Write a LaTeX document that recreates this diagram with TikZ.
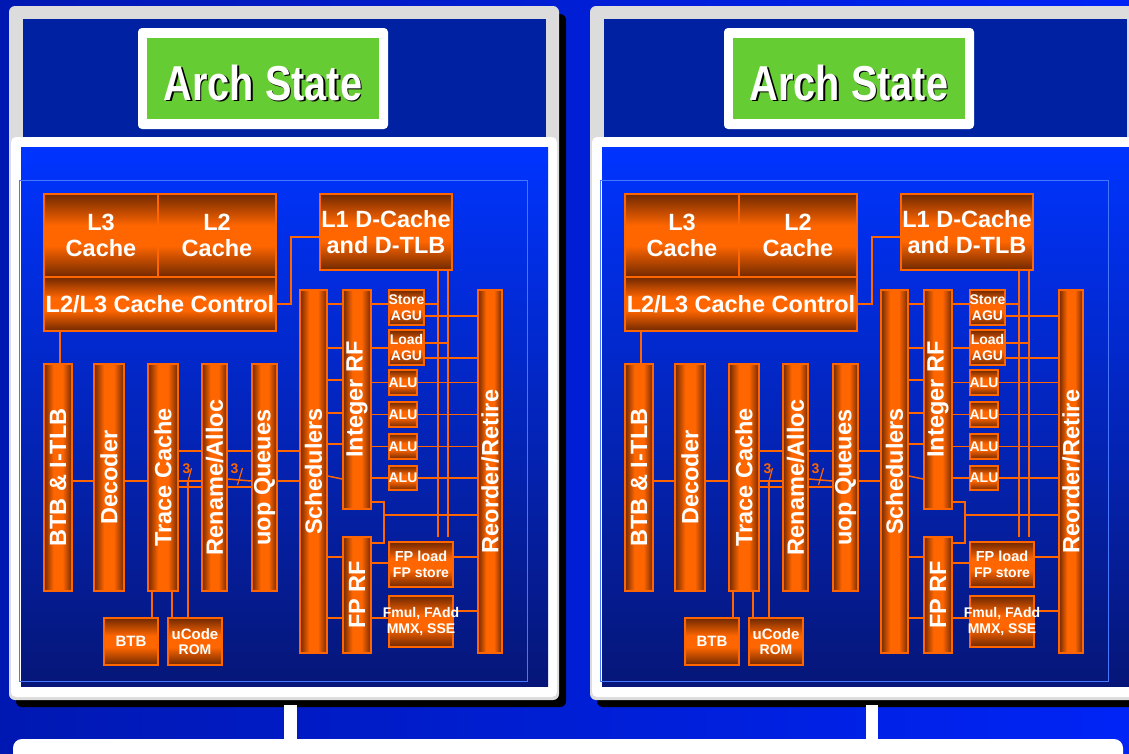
\documentclass[tikz,border=0pt]{standalone}
\usepackage{fontspec}
\setmainfont{Liberation Sans}
\usetikzlibrary{calc}

\definecolor{bgLeft}{RGB}{0,24,178}
\definecolor{bgRight}{RGB}{0,36,246}
\definecolor{frameGray}{RGB}{220,220,220}
\definecolor{topBlue}{RGB}{0,34,162}
\definecolor{coreTop}{RGB}{0,52,255}
\definecolor{coreBot}{RGB}{6,22,120}
\definecolor{rimBlue}{RGB}{70,120,255}
\definecolor{archGreen}{RGB}{102,204,51}
\definecolor{orng}{RGB}{255,102,0}
\definecolor{rust}{RGB}{112,40,0}
\definecolor{rustMid}{RGB}{190,74,0}

% cylinder-like shading across the narrow bars, and top/bottom shading for the blocks
\pgfdeclarehorizontalshading{barshade}{100bp}{color(0bp)=(rust); color(25bp)=(rust); color(34bp)=(rustMid); color(42bp)=(orng); color(58bp)=(orng); color(66bp)=(rustMid); color(75bp)=(rust); color(100bp)=(rust)}
\pgfdeclareverticalshading{boxshade}{100bp}{color(0bp)=(rust); color(25bp)=(rust); color(44bp)=(orng); color(56bp)=(orng); color(75bp)=(rust); color(100bp)=(rust)}

\pgfdeclarelayer{back}
\pgfdeclarelayer{wires}
\pgfsetlayers{back,wires,main}

\tikzset{
  unit/.style={draw=orng, line width=1.5, inner sep=0pt, text=white, align=center,
    font=\bfseries\fontsize{23.5}{26}\selectfont},
  hblock/.style={unit, shading=boxshade},
  vbar/.style={unit, shading=barshade},
  small/.style={hblock, font=\bfseries\fontsize{14}{15.5}\selectfont},
  link/.style={draw=orng, line width=1.5},
  tick/.style={draw=orng, line width=1.2},
  buswidth/.style={text=orng, inner sep=0pt, font=\bfseries\fontsize{14}{14}\selectfont},
  archfont/.style={inner sep=0pt, font=\bfseries\fontsize{49}{49}\selectfont},
}

% \blk{name}{x1}{y1}{x2}{y2}{style}{text}
\newcommand\blk[7]{\node[#6, minimum width={(#4)-(#2)}, minimum height={(#5)-(#3)}] (#1) at ({((#2)+(#4))/2},{((#3)+(#5))/2}) {#7};}
% a label line that may run past the edges of its box
\newcommand\ov[1]{\makebox[0pt]{#1}}

% one processor core with its architectural state
\newcommand\cpupanel[2]{%
\begin{scope}[xshift=#1]
  \begin{pgfonlayer}{back}
    \fill[black, rounded corners=6] (16,14) rectangle (566,707);
    \fill[frameGray, rounded corners=6] (9,6) rectangle (559,700);
    \fill[topBlue] (23,19) rectangle (546,138);
    \fill[white, rounded corners=5] (11,137) rectangle (557,697);
    \shade[top color=coreTop, bottom color=coreBot] (21,147) rectangle (548,686);
    \draw[rimBlue, line width=1] (19,180) rectangle (527,681);
    \fill[white, rounded corners=4] (138+#2,28) rectangle (388+#2,129);
  \end{pgfonlayer}
  % architectural state
  \node[fill=archGreen, inner sep=0pt, minimum width=232, minimum height=81] (arch) at (263+#2,78.5) {};
  \node[archfont, text=black] (archshadow) at (264.5+#2,84) {\scalebox{0.81}[1]{Arch State}};
  \node[archfont, text=white] (archtxt) at (263+#2,82.5) {\scalebox{0.81}[1]{Arch State}};
  % caches
  \blk{l3}{44}{194}{158}{277}{hblock}{L3\\Cache}
  \blk{l2}{158}{194}{276}{277}{hblock}{L2\\Cache}
  \blk{ctrl}{44}{277}{276}{331}{hblock}{\ov{L2/L3 Cache Control}}
  \blk{l1}{320}{194}{452}{270}{hblock}{\ov{L1 D-Cache}\\\ov{and D-TLB}}
  % front end
  \blk{btb}{44}{364}{72}{591}{vbar}{\rotatebox{90}{BTB \& I-TLB}}
  \blk{dec}{94}{364}{124}{591}{vbar}{\rotatebox{90}{Decoder}}
  \blk{tc}{148}{364}{178}{591}{vbar}{\rotatebox{90}{Trace Cache}}
  \blk{ren}{202}{364}{227}{591}{vbar}{\rotatebox{90}{Rename/Alloc}}
  \blk{uopq}{252}{364}{277}{591}{vbar}{\rotatebox{90}{uop Queues}}
  \blk{btb2}{104}{618}{158}{665}{small}{\fontsize{15}{17}\selectfont BTB}
  \blk{ucode}{168}{618}{222}{665}{small}{\fontsize{15}{17}\selectfont uCode\\ROM}
  % out-of-order back end
  \blk{sched}{300}{290}{327}{653}{vbar}{\rotatebox{90}{Schedulers}}
  \blk{irf}{343}{290}{371}{509}{vbar}{\rotatebox{90}{Integer RF}}
  \blk{fprf}{343}{537}{371}{653}{vbar}{\rotatebox{90}{FP RF}}
  \blk{store}{389}{290}{424}{325}{small}{\ov{Store}\\\ov{AGU}}
  \blk{load}{389}{330}{424}{365}{small}{\ov{Load}\\\ov{AGU}}
  \blk{alu1}{389}{370}{417}{395}{small}{\ov{ALU}}
  \blk{alu2}{389}{402}{417}{427}{small}{\ov{ALU}}
  \blk{alu3}{389}{434}{417}{459}{small}{\ov{ALU}}
  \blk{alu4}{389}{466}{417}{490}{small}{\ov{ALU}}
  \blk{fpls}{389}{542}{453}{587}{small}{\fontsize{14.5}{15.5}\selectfont\ov{FP load}\\\ov{FP store}}
  \blk{fmul}{389}{596}{453}{647}{small}{\ov{Fmul, FAdd}\\\ov{MMX, SSE}}
  \blk{rob}{478}{290}{502}{653}{vbar}{\rotatebox{90}{Reorder/Retire}}
  % junction points
  \coordinate (ucodetap) at (188,481);
  \coordinate (dtap1) at (438,537);
  \coordinate (dtap2) at (448,537);
  \coordinate (jn) at (384,515);
  \node[buswidth] (w1) at (186.5,469) {3};
  \node[buswidth] (w2) at (234.5,469) {3};
  \begin{pgfonlayer}{wires}
    \draw[link] (ctrl.south -| 60,0) -- (btb.north -| 60,0);
    \draw[link] (ctrl.east |- 0,304) -- ++(14,0) |- (l1.west |- 0,237);
    \draw[link] (btb.east |- 0,481) -- (dec.west |- 0,481);
    \draw[link] (dec.east |- 0,481) -- (tc.west |- 0,481);
    \draw[link] (tc.east |- 0,481) -- (ren.west |- 0,481);
    \draw[link] (ren.east |- 0,479) -- (uopq.west |- 0,481);
    \draw[link] (uopq.east |- 0,481) -- (sched.west |- 0,481);
    \draw[link] (tc.east |- 0,451) -- (sched.west |- 0,451);
    \draw[link] (tc.east |- 0,487) -- (uopq.west |- 0,487);
    \draw[link] (ucode.north -| ucodetap) -- (ucodetap);
    \draw[link] (tc.south -| 152,0) -- (btb2.north -| 152,0);
    \draw[link] (tc.south -| 172,0) -- (ucode.north -| 172,0);
    \draw[tick] ([shift={(5,-1)}]w1.center) -- ++(-4.5,17);
    \draw[tick] ([shift={(8,-1)}]w2.center) -- ++(-5,17);
    % scheduler to register files
    \foreach \y in {304,348,380,413,444}
      \draw[link] (sched.east |- 0,\y) -- (irf.west |- 0,\y);
    \draw[link] (sched.east |- 0,476) -- (irf.west |- 0,479);
    \draw[link] (sched.east |- 0,557) -- (fprf.west |- 0,557);
    \draw[link] (sched.east |- 0,618) -- (fprf.west |- 0,618);
    % register files to execution units
    \draw[link] (irf.east |- 0,304) -- (store.west |- 0,304);
    \draw[link] (irf.east |- 0,348) -- (load.west |- 0,348);
    \foreach \u in {alu1,alu2,alu3,alu4}{
      \draw[link] (irf.east |- \u.west) -- (\u.west);
      \draw[link] (\u.east) -- (rob.west |- \u.east);
    }
    \draw[link] (fprf.east |- 0,563) -- (fpls.west |- 0,563);
    \draw[link] (fprf.east |- 0,618) -- (fmul.west |- 0,618);
    % data cache ports
    \draw[link] (l1.south -| dtap1) -- (dtap1);
    \draw[link] (l1.south -| dtap2) -- (dtap2);
    \draw[link] (store.east |- 0,304) -- (dtap1 |- 0,304);
    \draw[link] (load.east |- 0,343) -- (dtap2 |- 0,343);
    % results to reorder/retire
    \draw[link] (store.east |- 0,316) -- (rob.west |- 0,316);
    \draw[link] (load.east |- 0,358) -- (rob.west |- 0,358);
    \draw[link] (irf.east |- 0,502) -| (jn) |- (fprf.east |- 0,543);
    \draw[link] (jn) -- (rob.west |- jn);
    \draw[link] (fpls.east |- 0,557) -- (rob.west |- 0,557);
    \draw[link] (fmul.east |- 0,611) -- (rob.west |- 0,611);
  \end{pgfonlayer}
\end{scope}}

\begin{document}
\begin{tikzpicture}[x=1pt, y=-1pt]
  \useasboundingbox (0,0) rectangle (1129,753);
  \begin{pgfonlayer}{back}
    \shade[left color=bgLeft, right color=bgRight] (0,0) rectangle (1129,753);
  \end{pgfonlayer}
  \cpupanel{0}{0}
  \cpupanel{581}{5}
  % shared bus below the two cores
  \begin{pgfonlayer}{back}
    \fill[white] (284,705) rectangle (297,742);
    \fill[white] (866,705) rectangle (878,742);
    \fill[white, rounded corners=9] (13,739) rectangle (1123,775);
  \end{pgfonlayer}
\end{tikzpicture}
\end{document}
